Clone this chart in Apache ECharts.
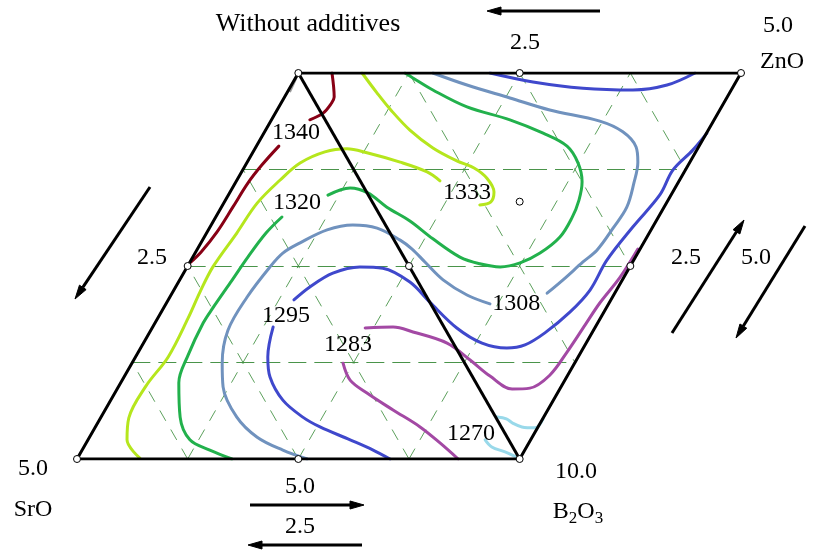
<!DOCTYPE html>
<html>
<head>
<meta charset="utf-8">
<script src="https://cdn.jsdelivr.net/npm/echarts@6/dist/echarts.min.js"></script>
<style>
  html, body { margin: 0; padding: 0; background: #fff; }
  #chart { width: 819px; height: 552px; }
</style>
</head>
<body>
<div id="chart"></div>
<script>
// rhombus of two equilateral triangles, side = 10 units
const SIDE = 10;
const H = SIDE * Math.sqrt(3) / 2;

// contour lines, [x, y] in diagram units
const c1340a = [[5.76, 8.66], [5.81, 8.12], [5.74, 7.97], [5.56, 7.76], [5.26, 7.61]];
const c1340b = [[4.56, 7.02], [4.18, 6.60], [3.86, 6.19], [3.52, 5.65], [3.16, 5.09], [2.80, 4.64], [2.55, 4.40]];
const c1333a = [[6.44, 8.66], [6.78, 8.21], [7.09, 7.83], [7.52, 7.38], [8.04, 6.98], [8.58, 6.69], [8.97, 6.53],
  [9.26, 6.30], [9.42, 5.99], [9.35, 5.77], [9.10, 5.70]];
const c1333b = [[1.42, 0.02], [1.13, 0.43], [1.17, 0.92], [1.56, 1.64], [2.06, 2.29], [2.51, 3.16], [2.78, 3.75],
  [3.07, 4.31], [3.61, 5.07], [4.07, 5.74], [4.59, 6.26], [5.04, 6.64], [5.60, 6.89], [6.10, 6.96], [6.55, 6.87],
  [7.30, 6.66], [7.91, 6.44], [8.20, 6.24]];
const c1320a = [[7.41, 8.66], [7.59, 8.55], [8.04, 8.28], [8.81, 7.90], [9.78, 7.61], [10.53, 7.31], [11.07, 7.02],
  [11.32, 6.64], [11.41, 6.22], [11.34, 5.81], [11.18, 5.41], [10.91, 4.98], [10.46, 4.62], [10.01, 4.40],
  [9.56, 4.31], [9.10, 4.38], [8.65, 4.53], [8.04, 4.94], [7.52, 5.34], [7.00, 5.65], [6.57, 5.97], [6.17, 6.08],
  [5.67, 5.92]];
const c1320b = [[4.63, 5.43], [4.27, 5.07], [3.86, 4.53], [3.46, 3.95], [3.07, 3.39], [2.85, 3.05], [2.51, 2.33],
  [2.30, 1.71], [2.33, 0.94], [2.55, 0.43], [3.00, 0.20], [3.50, 0]];
const c1308a = [[8.04, 8.66], [8.81, 8.39], [9.78, 8.10], [10.68, 7.83], [11.81, 7.58], [12.33, 7.34], [12.63, 7.00],
  [12.67, 6.66], [12.58, 6.19], [12.42, 5.65], [12.11, 5.18], [11.75, 4.69], [11.43, 4.42], [10.98, 4.02],
  [10.62, 3.72]];
const c1308b = [[9.33, 3.48], [8.81, 3.68], [8.27, 4.02], [7.86, 4.42], [7.57, 4.71], [7.30, 4.91], [6.78, 5.18],
  [6.23, 5.25], [5.65, 5.14], [5.04, 4.85], [4.65, 4.62], [4.36, 4.31], [3.84, 3.63], [3.41, 2.89], [3.28, 2.15],
  [3.30, 1.62], [3.61, 0.94], [4.07, 0.49], [4.65, 0.20], [5.20, 0]];
const c1295a = [[9.33, 8.66], [10.30, 8.46], [11.43, 8.32], [12.56, 8.28], [13.33, 8.39], [13.96, 8.66]];
const c1295b = [[14.23, 7.31], [13.91, 6.93], [13.46, 6.48], [13.17, 5.93], [12.56, 5.21], [11.97, 4.46],
  [11.59, 3.79], [11.14, 3.30], [10.57, 2.83], [10.12, 2.56], [9.71, 2.49], [9.15, 2.60], [8.58, 2.94],
  [7.97, 3.52], [7.52, 3.97], [6.91, 4.28], [6.39, 4.31], [5.78, 4.17], [5.26, 3.86], [4.90, 3.57]];
const c1295c = [[4.43, 2.96], [4.31, 2.29], [4.36, 1.84], [4.65, 1.32], [5.10, 0.94], [5.49, 0.72], [6.17, 0.43],
  [6.69, 0.20], [7.07, 0]];
const c1283a = [[6.51, 2.94], [7.14, 2.96], [7.59, 2.85], [8.36, 2.60], [8.88, 2.22], [9.33, 1.86], [9.83, 1.57],
  [10.23, 1.59], [10.68, 1.88], [11.07, 2.40], [11.48, 3.01], [11.81, 3.50], [12.27, 4.08], [12.67, 4.71]];
const c1283b = [[6.01, 2.15], [6.17, 1.77], [6.55, 1.48], [7.14, 1.10], [7.75, 0.72], [8.20, 0.36], [8.61, 0]];
const c1270a = [[9.49, 0.94], [9.70, 0.90], [9.85, 0.80], [10.05, 0.72], [10.35, 0.70], [10.53, 0.90]];
const c1270b = [[9.22, 0.43], [9.37, 0.27], [9.67, 0.16], [9.94, 0.04]];
const cGrey = [[4.99, 8.62], [4.81, 8.23]];

// contour values and where their labels sit
const levelNames = ['1340', '1320', '1333', '1295', '1283', '1308', '1270'];
const levelLabelAt = [[4.95, 7.31], [4.97, 5.74], [8.81, 5.97], [4.72, 3.21], [6.12, 2.56], [9.92, 3.48], [8.90, 0.56]];

// grid steps of the triangular lattice
const steps = [2.5, 5, 7.5];

const colors = {
  c1340: '#880015', c1333: '#b5e61d', c1320: '#22b14c', c1308: '#7092be',
  c1295: '#3f48cc', c1283: '#a349a4', c1270: '#99d9ea'
};

const chart = echarts.init(document.getElementById('chart'));

function contour(data, color) {
  return {
    type: 'line', data: data, symbol: 'none', smooth: 0.35, silent: true, z: 3,
    lineStyle: { color: color, width: 3, cap: 'round' }
  };
}

// lattice segments
const r3 = Math.sqrt(3);
const hLines = steps.map(s => {
  const y = s / SIDE * H;
  return { coords: [[y / r3, y], [SIDE + y / r3, y]] };
});
const upLines = steps.map(a => ({ coords: [[a, 0], [a + SIDE / 2, H]] }));
const downLines = steps.map(c => ({ coords: [[c, 0], [c / 2, c * r3 / 2]] }))
  .concat(steps.map(s => {
    const c = SIDE + s;
    return { coords: [[c - SIDE / 2, H], [SIDE + s / 2, s * r3 / 2]] };
  }));

const frame = [[0, 0], [SIDE, 0], [SIDE * 1.5, H], [SIDE / 2, H], [0, 0]];
const diag = [[SIDE / 2, H], [SIDE, 0]];
const nodes = [[0, 0], [5, 0], [10, 0], [2.5, H / 2], [7.5, H / 2], [12.5, H / 2], [5, H], [10, H], [15, H],
  [10, H * 2 / 3]];

const serif = 'Liberation Serif, Times New Roman, serif';
const ink = '#000';

function text(t, x, y, size) {
  return {
    type: 'text', x: x, y: y, silent: true, z: 20,
    style: { text: t, fill: ink, font: (size || 24) + 'px ' + serif, textAlign: 'center', textVerticalAlign: 'middle',
      align: 'center', verticalAlign: 'middle' }
  };
}

function arrow(x1, y1, x2, y2) {
  const dx = x2 - x1, dy = y2 - y1, len = Math.hypot(dx, dy);
  const ux = dx / len, uy = dy / len, L = 14, w = 4;
  const bx = x2 - ux * L, by = y2 - uy * L;
  return [
    { type: 'line', silent: true, z: 20, shape: { x1: x1, y1: y1, x2: bx, y2: by },
      style: { stroke: '#000', lineWidth: 3 } },
    { type: 'polygon', silent: true, z: 20,
      shape: { points: [[x2, y2], [bx - uy * w, by + ux * w], [bx + uy * w, by - ux * w]] },
      style: { fill: '#000', stroke: '#000', lineWidth: 1 } }
  ];
}

const graphics = [
  text('Without additives', 308, 24, 26),
  text('2.5', 525, 43),
  text('5.0', 778, 26),
  text('ZnO', 782, 62),
  text('2.5', 152, 258),
  text('2.5', 686, 258),
  text('5.0', 756, 258),
  text('5.0', 33, 469),
  text('SrO', 33, 510),
  text('5.0', 300, 487),
  text('2.5', 300, 527),
  text('10.0', 576, 472),
  {
    type: 'text', x: 578, y: 512, silent: true, z: 20,
    style: {
      text: '{a|B}{b|2}{a|O}{b|3}', textAlign: 'center', textVerticalAlign: 'middle', align: 'center', verticalAlign: 'middle',
      rich: {
        a: { fontSize: 24, fontFamily: serif, fill: ink, color: ink, lineHeight: 30 },
        b: { fontSize: 17, fontFamily: serif, fill: ink, color: ink, verticalAlign: 'bottom', lineHeight: 17 }
      }
    }
  }
].concat(
  arrow(600, 11, 487, 11),
  arrow(150, 187, 75, 299),
  arrow(672, 333, 744, 220),
  arrow(805, 226, 736, 338),
  arrow(250, 505, 364, 505),
  arrow(362, 545, 248, 545)
);

const dashColor = '#3f8f3f';

const option = {
  animation: false,
  backgroundColor: '#fff',
  grid: { left: 77, top: 73, width: 664, height: 386 },
  xAxis: { type: 'value', min: 0, max: 15, show: false },
  yAxis: { type: 'value', min: 0, max: H, show: false },
  series: [
    { type: 'lines', coordinateSystem: 'cartesian2d', silent: true, z: 1, data: hLines,
      lineStyle: { color: '#4a944a', width: 1.2, opacity: 1, type: [18, 8] } },
    { type: 'lines', coordinateSystem: 'cartesian2d', silent: true, z: 1, data: upLines.concat(downLines),
      lineStyle: { color: dashColor, width: 1, opacity: 0.85, type: [12, 10] } },
    contour(c1340a, colors.c1340), contour(c1340b, colors.c1340),
    contour(c1333a, colors.c1333), contour(c1333b, colors.c1333),
    contour(c1320a, colors.c1320), contour(c1320b, colors.c1320),
    contour(c1308a, colors.c1308), contour(c1308b, colors.c1308),
    contour(c1295a, colors.c1295), contour(c1295b, colors.c1295), contour(c1295c, colors.c1295),
    contour(c1283a, colors.c1283), contour(c1283b, colors.c1283),
    contour(c1270a, colors.c1270), contour(c1270b, colors.c1270),
    { type: 'line', data: cGrey, symbol: 'none', silent: true, z: 3, lineStyle: { color: '#9a9a9a', width: 2 } },
    { type: 'line', data: frame, symbol: 'none', silent: true, z: 5,
      lineStyle: { color: '#000', width: 3, join: 'miter' } },
    { type: 'line', data: diag, symbol: 'none', silent: true, z: 5, lineStyle: { color: '#000', width: 3 } },
    { type: 'scatter', data: nodes, symbol: 'circle', symbolSize: 7, silent: true, z: 6,
      itemStyle: { color: '#fff', borderColor: '#000', borderWidth: 1, opacity: 1 } },
    { type: 'scatter', symbolSize: 0, silent: true, z: 7,
      itemStyle: { opacity: 1 },
      data: levelNames.map((n, i) => ({ name: n, value: levelLabelAt[i] })),
      label: { show: true, position: 'inside', formatter: p => p.name, color: ink, opacity: 1,
        textBorderWidth: 0, fontFamily: serif, fontSize: 24 } }
  ],
  graphic: graphics
};

chart.setOption(option);
</script>
</body>
</html>
